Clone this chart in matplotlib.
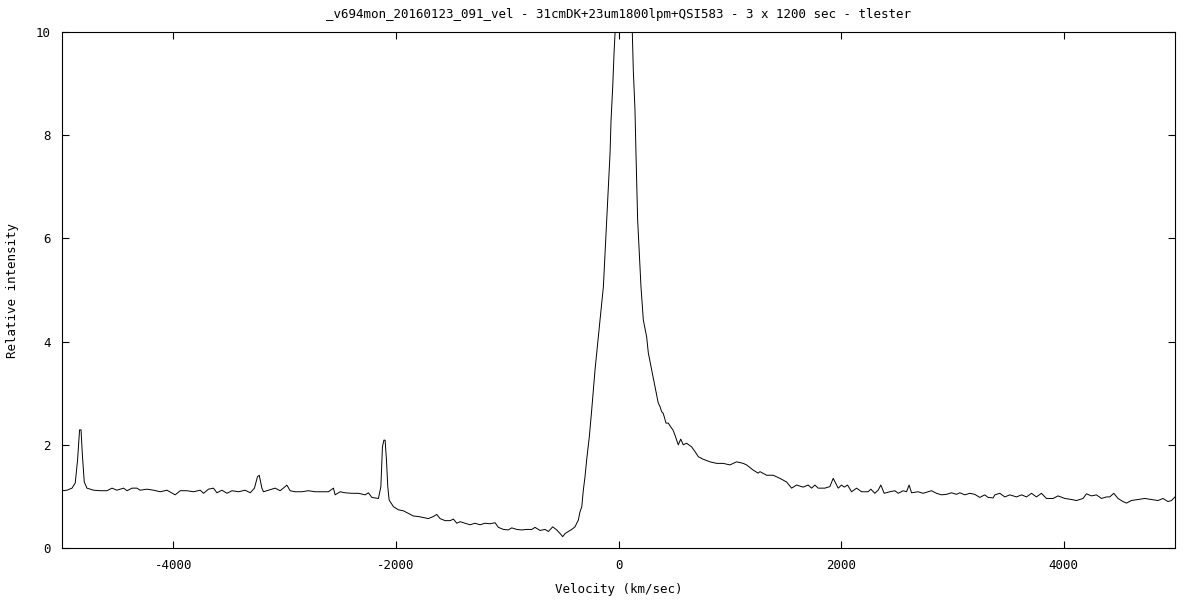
import numpy as np
import matplotlib
matplotlib.use("Agg")
import matplotlib.pyplot as plt

# spectrum (velocity km/s, relative intensity)
velocity = [
    -5000, -4955, -4910, -4881, -4860, -4842, -4829, -4818, -4800, -4776,
    -4716, -4656, -4596, -4551, -4506, -4447, -4416, -4371, -4327, -4297,
    -4237, -4177, -4117, -4057, -3983, -3938, -3878, -3818, -3758, -3728,
    -3684, -3639, -3608, -3563, -3518, -3473, -3414, -3354, -3309, -3271,
    -3244, -3228, -3204, -3190, -3145, -3085, -3040, -2995, -2980, -2950,
    -2905, -2845, -2786, -2725, -2665, -2606, -2561, -2546, -2501, -2456,
    -2396, -2337, -2276, -2247, -2216, -2157, -2135, -2121, -2108, -2097,
    -2085, -2073, -2061, -2022, -1977, -1932, -1888, -1843, -1798, -1753,
    -1708, -1663, -1633, -1603, -1558, -1513, -1483, -1453, -1423, -1378,
    -1334, -1289, -1244, -1199, -1154, -1109, -1079, -1034, -990, -959,
    -914, -869, -824, -779, -750, -705, -660, -630, -591, -555,
    -525, -501, -480, -451, -420, -391, -361, -346, -330, -316,
    -301, -286, -262, -241, -211, -196, -166, -136, -121, -106,
    -92, -76, -67, -52, -40, -31, 0, 50, 110, 124,
    133, 148, 157, 172, 187, 202, 223, 253, 268, 298,
    328, 357, 373, 388, 402, 427, 447, 478, 489, 507,
    537, 559, 582, 612, 657, 687, 717, 761, 822, 882,
    941, 1001, 1061, 1121, 1151, 1210, 1255, 1271, 1331, 1390,
    1450, 1510, 1555, 1600, 1659, 1704, 1735, 1765, 1794, 1854,
    1899, 1929, 1974, 2004, 2028, 2058, 2094, 2139, 2184, 2243,
    2267, 2303, 2333, 2357, 2387, 2438, 2483, 2513, 2558, 2588,
    2611, 2633, 2692, 2737, 2782, 2812, 2857, 2902, 2947, 2992,
    3037, 3067, 3112, 3156, 3201, 3246, 3291, 3321, 3366, 3381,
    3426, 3471, 3516, 3576, 3621, 3666, 3711, 3755, 3800, 3845,
    3905, 3949, 4010, 4070, 4115, 4174, 4204, 4249, 4294, 4339,
    4384, 4414, 4450, 4488, 4533, 4564, 4608, 4668, 4728, 4788,
    4847, 4892, 4937, 4968, 5000,
]
intensity = [
    1.11, 1.12, 1.16, 1.26, 1.71, 2.29, 2.29, 1.84, 1.28, 1.16,
    1.12, 1.11, 1.11, 1.16, 1.12, 1.16, 1.11, 1.16, 1.16, 1.12,
    1.14, 1.12, 1.09, 1.12, 1.03, 1.11, 1.11, 1.09, 1.12, 1.06,
    1.14, 1.16, 1.07, 1.12, 1.06, 1.11, 1.09, 1.12, 1.07, 1.16,
    1.38, 1.41, 1.16, 1.09, 1.12, 1.16, 1.11, 1.19, 1.22, 1.11,
    1.09, 1.09, 1.11, 1.09, 1.09, 1.09, 1.16, 1.03, 1.09, 1.07,
    1.06, 1.06, 1.03, 1.07, 0.98, 0.96, 1.19, 1.96, 2.09, 2.09,
    1.71, 1.19, 0.93, 0.80, 0.74, 0.72, 0.67, 0.62, 0.61, 0.59,
    0.57, 0.61, 0.65, 0.57, 0.53, 0.53, 0.56, 0.48, 0.51, 0.48,
    0.45, 0.48, 0.45, 0.48, 0.47, 0.49, 0.40, 0.36, 0.35, 0.39,
    0.36, 0.35, 0.36, 0.36, 0.40, 0.34, 0.36, 0.32, 0.41, 0.35,
    0.28, 0.22, 0.28, 0.32, 0.36, 0.41, 0.54, 0.70, 0.80, 1.12,
    1.38, 1.71, 2.16, 2.67, 3.45, 3.78, 4.42, 5.06, 5.71, 6.36,
    7.00, 7.65, 8.29, 8.94, 9.59, 9.98, 11.6, 13.0, 11.0, 10.0,
    9.26, 8.49, 7.65, 6.36, 5.71, 5.06, 4.42, 4.09, 3.78, 3.45,
    3.12, 2.81, 2.74, 2.64, 2.61, 2.42, 2.42, 2.32, 2.29, 2.19,
    2.00, 2.11, 2.00, 2.03, 1.96, 1.87, 1.77, 1.72, 1.67, 1.64,
    1.64, 1.61, 1.67, 1.64, 1.61, 1.51, 1.45, 1.48, 1.41, 1.41,
    1.35, 1.28, 1.16, 1.22, 1.18, 1.22, 1.16, 1.22, 1.16, 1.16,
    1.19, 1.35, 1.16, 1.22, 1.18, 1.22, 1.09, 1.16, 1.09, 1.09,
    1.14, 1.06, 1.12, 1.22, 1.06, 1.09, 1.11, 1.06, 1.11, 1.09,
    1.22, 1.07, 1.09, 1.06, 1.09, 1.11, 1.06, 1.03, 1.04, 1.07,
    1.04, 1.07, 1.03, 1.06, 1.04, 0.98, 1.03, 0.98, 0.97, 1.03,
    1.06, 0.99, 1.03, 0.99, 1.03, 0.99, 1.06, 0.99, 1.06, 0.96,
    0.96, 1.01, 0.96, 0.94, 0.92, 0.96, 1.05, 1.01, 1.03, 0.96,
    0.99, 0.99, 1.06, 0.96, 0.90, 0.87, 0.92, 0.94, 0.96, 0.94,
    0.92, 0.96, 0.90, 0.92, 0.99,
]

xticks = [-4000, -2000, 0, 2000, 4000]
yticks = [0, 2, 4, 6, 8, 10]
title = "_v694mon_20160123_091_vel - 31cmDK+23um1800lpm+QSI583 - 3 x 1200 sec - tlester"

plt.rcParams["font.family"] = ["DejaVu Sans Mono"]
plt.rcParams["axes.unicode_minus"] = False

fig = plt.figure(figsize=(12, 6), dpi=100)
ax = fig.add_axes([62 / 1200, 52 / 600, 1113 / 1200, 516 / 600])
ax.plot(velocity, intensity, color="black", linewidth=0.7)

ax.set_xlim(-5000, 5000)
ax.set_ylim(0, 10)
ax.set_xticks(xticks)
ax.set_yticks(yticks)
ax.tick_params(direction="in", length=5, width=0.8, top=True, right=True,
               labelsize=9, pad=8)
for s in ax.spines.values():
    s.set_linewidth(0.8)

ax.set_xlabel("Velocity (km/sec)", fontsize=9, labelpad=8)
ax.set_ylabel("Relative intensity", fontsize=9, labelpad=12)
ax.set_title(title, fontsize=9, pad=10)

fig.savefig("out.png", dpi=100)
